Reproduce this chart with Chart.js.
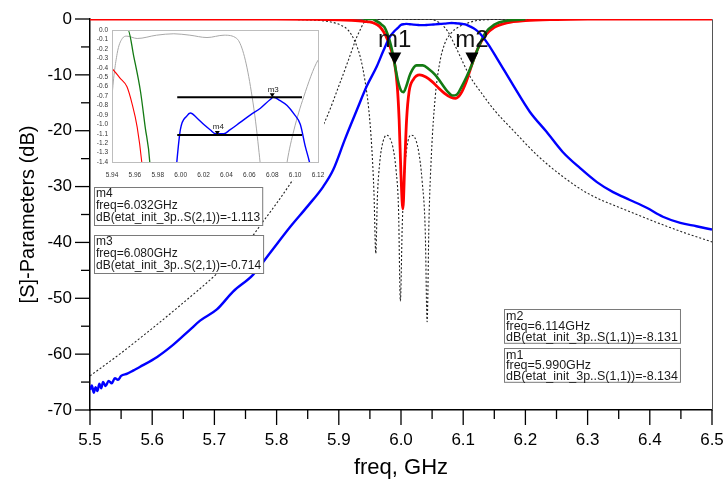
<!DOCTYPE html>
<html>
<head>
<meta charset="utf-8">
<script src="https://cdn.jsdelivr.net/npm/chart.js@4.4.0/dist/chart.umd.min.js"></script>
<style>
  body { margin: 0; background: #fff; }
  #wrap { position: relative; width: 727px; height: 483px; }
  #main { position: absolute; left: 0; top: 0; }
  #inset { position: absolute; left: 92px; top: 24px; background: #fff; }
</style>
</head>
<body>
<div id="wrap">
  <canvas id="main" width="727" height="483"></canvas>
  <canvas id="inset" width="232" height="156"></canvas>
</div>
<script>
// measured S21 (blue)
const s21MeasFreq = [5.5, 5.503, 5.506, 5.509, 5.512, 5.515, 5.518, 5.521, 5.525, 5.53, 5.535, 5.54, 5.545, 5.55, 5.56, 5.57, 5.58,
  5.608, 5.634, 5.661, 5.677, 5.704, 5.73, 5.762, 5.79, 5.822, 5.85, 5.875, 5.891, 5.91, 5.929, 5.945, 5.961, 5.972, 5.982,
  5.99, 5.995, 5.9997, 6.0055, 6.0085, 6.014, 6.02, 6.026, 6.0303, 6.0376, 6.043, 6.052, 6.061, 6.0697, 6.078, 6.081, 6.087,
  6.093, 6.099, 6.1045, 6.109, 6.1125, 6.12, 6.127, 6.14, 6.154, 6.18, 6.207, 6.234, 6.26, 6.288, 6.315, 6.341, 6.368,
  6.395, 6.421, 6.449, 6.475, 6.5]
const s21MeasDb = [-66.4, -65.6, -66.9, -65.9, -66.6, -65.3, -66.1, -65.0, -65.7, -64.8, -65.2, -64.3, -64.6, -63.9, -63.5, -62.9, -62.3,
  -60.5, -58.3, -55.6, -54.0, -52.0, -48.8, -45.8, -41.8, -37.2, -33.5, -30.0, -27.0, -21.5, -16.3, -12.0, -8.5, -5.6, -3.2,
  -2.1, -1.6, -1.06, -0.91, -0.88, -0.93, -1.0, -1.06, -1.1, -1.1, -1.06, -0.98, -0.9, -0.83, -0.74, -0.714, -0.75,
  -0.8, -0.89, -1.0, -1.24, -1.4, -1.9, -2.6, -4.5, -7.0, -11.8, -16.6, -20.2, -23.8, -26.7, -29.2, -31.0, -32.4,
  -33.8, -35.4, -36.5, -37.1, -37.7]

// S11 (red)
const s11RedFreq = [5.5, 5.8, 5.85, 5.9, 5.92, 5.94, 5.947, 5.953, 5.9575, 5.962, 5.966, 5.972, 5.978, 5.984, 5.99, 5.994, 5.997,
  6.0, 6.003, 6.006, 6.009, 6.013, 6.02, 6.03, 6.04, 6.05, 6.06, 6.07, 6.08, 6.088, 6.096, 6.105, 6.114, 6.124, 6.135,
  6.15, 6.17, 6.2, 6.25, 6.3, 6.5]
const s11RedDb = [0, -0.02, -0.06, -0.15, -0.25, -0.41, -0.51, -0.6, -0.78, -1.03, -1.4, -2.3, -3.6, -5.5, -8.13, -12, -18,
  -28, -34, -26, -18, -13, -10.8, -10, -10.4, -11.2, -12.3, -13.3, -14, -14.2, -13.4, -11.2, -8.13, -5.2, -3,
  -1.5, -0.7, -0.3, -0.1, -0.03, 0]

// S11 (green)
const s11GreenFreq = [5.94, 5.954, 5.959, 5.965, 5.969, 5.973, 5.978, 5.984, 5.99, 5.995, 6.0, 6.004, 6.008, 6.015, 6.025, 6.035,
  6.045, 6.055, 6.065, 6.075, 6.083, 6.09, 6.098, 6.106, 6.114, 6.124, 6.135, 6.15, 6.17, 6.2]
const s11GreenDb = [0, 0, -0.28, -0.66, -1.03, -1.4, -2.6, -4.8, -8.13, -11, -12.8, -13.1, -12.2, -9.8, -8.3, -8.3,
  -9, -10, -11.5, -13, -13.7, -13.5, -12, -10.2, -8.13, -5.2, -2.6, -1, -0.3, -0.05]

// ideal S21 (dotted)
const s21IdealFreq = [5.5, 5.55, 5.6, 5.65, 5.706, 5.75, 5.778, 5.8, 5.826, 5.85, 5.881, 5.9, 5.915, 5.929, 5.935, 5.94, 5.9445,
  5.949, 5.953, 5.962, 5.979, 5.994, 6.008, 6.023, 6.038, 6.049, 6.055, 6.061, 6.067, 6.075, 6.09, 6.111, 6.129, 6.15,
  6.18, 6.22, 6.26, 6.3, 6.368, 6.449, 6.5]
const s21IdealDb = [-63.9, -59.8, -55.4, -50.8, -45.4, -40.5, -36.3, -33, -28.8, -24.5, -17.5, -12, -7.5, -3.2, -1.8, -0.71, -0.25,
  -0.09, -0.065, -0.09, -0.055, -0.04, -0.055, -0.08, -0.055, -0.09, -0.25, -0.6, -1.13, -2.2, -5.5, -10.3, -13.2, -16.3,
  -19.9, -24.5, -28.2, -31.2, -34.5, -38, -39.9]

// ideal S11 (dotted)
const s11IdealFreq = [5.5, 5.75, 5.82, 5.86, 5.88, 5.895, 5.905, 5.915, 5.925, 5.935, 5.942, 5.948, 5.953, 5.9565, 5.9595, 5.962,
  5.966, 5.971, 5.977, 5.982, 5.987, 5.992, 5.996, 5.999, 6.002, 6.006, 6.011, 6.017, 6.022, 6.028, 6.034, 6.039, 6.042,
  6.045, 6.049, 6.055, 6.062, 6.07, 6.08, 6.093, 6.099, 6.1075, 6.12, 6.14, 6.2, 6.5]
const s11IdealDb = [0, -0.02, -0.08, -0.2, -0.4, -0.75, -1.2, -2.0, -3.8, -7, -11, -16, -23, -31, -42, -32,
  -25.5, -22, -20.8, -21.3, -23, -27, -34, -50.5, -37, -27, -22, -20.8, -21.2, -23.5, -29, -38, -54.2,
  -36, -24, -14, -8, -4.5, -2.6, -1.4, -1.06, -0.71, -0.32, -0.12, -0.03, 0]

// markers
const markerNames = ['m1', 'm2', 'm3', 'm4']
const markerFreq = [5.990, 6.114, 6.080, 6.032]
const markerDb = [-8.134, -8.131, -0.714, -1.113]
const markerParam = ['S(1,1)', 'S(1,1)', 'S(2,1)', 'S(2,1)']

// inset reference lines
const refLineFreq = [5.997, 6.106]

const pts = (f, d) => f.map((x, i) => ({ x, y: d[i] }))
const FONT = 'Arial, "Liberation Sans", sans-serif'

const curve = (data, color, width, dash) => ({
  data, borderColor: color, borderWidth: width, borderDash: dash || [],
  pointRadius: 0, fill: false, cubicInterpolationMode: 'monotone'
})

// minor ticks, frame, markers and marker boxes
const mainDecor = {
  id: 'mainDecor',
  beforeDatasetsDraw(chart) {
    const { ctx, chartArea: a } = chart
    ctx.save()
    ctx.strokeStyle = '#555'
    ctx.lineWidth = 1
    ctx.beginPath()
    ctx.moveTo(a.left, a.top + 0.5); ctx.lineTo(a.right + 0.5, a.top + 0.5); ctx.lineTo(a.right + 0.5, a.bottom)
    ctx.stroke()
    ctx.restore()
  },
  afterDraw(chart) {
    const { ctx, chartArea: a, scales: { x, y } } = chart
    ctx.save()
    ctx.strokeStyle = '#000'
    ctx.lineWidth = 1.3
    for (let i = 0; i <= 20; i++) {
      const px = x.getPixelForValue(5.5 + i * 0.05)
      ctx.beginPath(); ctx.moveTo(px, a.bottom); ctx.lineTo(px, a.bottom + (i % 2 ? 9 : 15)); ctx.stroke()
    }
    for (let i = 0; i <= 14; i++) {
      const py = y.getPixelForValue(-i * 5)
      ctx.beginPath(); ctx.moveTo(a.left, py); ctx.lineTo(a.left - (i % 2 ? 9 : 15), py); ctx.stroke()
    }
    // m1, m2 markers
    ctx.fillStyle = '#000'
    ctx.textAlign = 'center'
    ctx.textBaseline = 'alphabetic'
    for (let i = 0; i < 2; i++) {
      const px = x.getPixelForValue(markerFreq[i]), py = y.getPixelForValue(markerDb[i])
      ctx.beginPath(); ctx.moveTo(px, py); ctx.lineTo(px - 6.5, py - 12); ctx.lineTo(px + 6.5, py - 12); ctx.closePath(); ctx.fill()
      ctx.font = '24px ' + FONT
      ctx.fillStyle = '#111'
      ctx.fillText(markerNames[i], px, py - 17)
      ctx.fillStyle = '#000'
    }
    // readout boxes: [marker index, left, top, font size, line step]
    const boxes = [[3, 94, 187, 12, 12], [2, 94, 235, 12, 12], [1, 504, 309, 12.5, 10.6], [0, 504, 348, 12.5, 10.6]]
    ctx.textAlign = 'left'
    ctx.textBaseline = 'top'
    boxes.forEach(([m, bx, by, fs, step]) => {
      const lines = [markerNames[m], 'freq=' + markerFreq[m].toFixed(3) + 'GHz',
        'dB(etat_init_3p..' + markerParam[m] + ')=' + markerDb[m].toFixed(3)]
      ctx.font = fs + 'px ' + FONT
      const w = Math.max(...lines.map(l => ctx.measureText(l).width)) + 4
      const h = step * 3 + 2
      ctx.fillStyle = '#fff'
      ctx.fillRect(bx, by, w, h)
      ctx.strokeStyle = '#7a7a7a'
      ctx.lineWidth = 1
      ctx.strokeRect(bx + 0.5, by + 0.5, w, h)
      ctx.fillStyle = '#1a1a1a'
      lines.forEach((l, k) => ctx.fillText(l, bx + 2, by + 1 + k * step))
    })
    ctx.restore()
  }
}

new Chart(document.getElementById('main'), {
  type: 'line',
  data: {
    datasets: [
      curve(pts(s21MeasFreq, s21MeasDb), '#0000ff', 2.4),
      curve(pts(s11GreenFreq, s11GreenDb), '#137a13', 2.6),
      curve(pts(s11RedFreq, s11RedDb), '#ff0000', 2.8),
      curve(pts(s21IdealFreq, s21IdealDb), '#222', 1.1, [2, 2]),
      curve(pts(s11IdealFreq, s11IdealDb), '#222', 1.1, [2, 2])
    ]
  },
  options: {
    responsive: false,
    animation: false,
    devicePixelRatio: 1,
    layout: { padding: { top: 19, right: 15, left: 0, bottom: 0 } },
    plugins: { legend: { display: false }, tooltip: { enabled: false } },
    scales: {
      x: {
        type: 'linear', min: 5.5, max: 6.5,
        ticks: { stepSize: 0.1, callback: v => v.toFixed(1), font: { size: 17, family: FONT }, color: '#000', padding: 20, maxRotation: 0, autoSkip: false },
        grid: { display: false, drawTicks: false },
        border: { color: '#000', width: 1.5 },
        title: { display: true, text: 'freq, GHz', font: { size: 22, family: FONT }, color: '#000', padding: { top: 0, bottom: 2 } },
        afterFit: s => { s.height = 73; s.paddingLeft = 0; s.paddingRight = 0 }
      },
      y: {
        min: -70, max: 0,
        ticks: { stepSize: 10, font: { size: 17, family: FONT }, color: '#000', padding: 18, autoSkip: false },
        grid: { display: false, drawTicks: false },
        border: { color: '#000', width: 1.5 },
        title: { display: true, text: '[S]-Parameters (dB)', font: { size: 20, family: FONT }, color: '#000', padding: { top: 16, bottom: 0 } },
        afterFit: s => { s.width = 90; s.paddingTop = 0; s.paddingBottom = 0 }
      }
    }
  },
  plugins: [mainDecor]
})

// inset: frame, reference markers
const insetDecor = {
  id: 'insetDecor',
  afterDatasetsDraw(chart) {
    const { ctx, chartArea: a, scales: { x, y } } = chart
    ctx.save()
    ctx.strokeStyle = '#bdbdbd'
    ctx.lineWidth = 1
    ctx.strokeRect(a.left + 0.5, a.top + 0.5, a.right - a.left, a.bottom - a.top)
    ctx.fillStyle = '#000'
    ctx.textAlign = 'center'
    ctx.font = '8px ' + FONT
    for (let i = 2; i < 4; i++) {
      const px = x.getPixelForValue(markerFreq[i]), py = y.getPixelForValue(markerDb[i])
      ctx.beginPath(); ctx.moveTo(px, py); ctx.lineTo(px - 2.5, py - 4); ctx.lineTo(px + 2.5, py - 4); ctx.closePath(); ctx.fill()
      ctx.fillStyle = '#222'
      ctx.fillText(markerNames[i], px + 1, py - 5.5)
      ctx.fillStyle = '#000'
    }
    ctx.restore()
  }
}

const tinyTicks = { font: { size: 6.5, family: FONT }, color: '#333', autoSkip: false, maxRotation: 0 }

new Chart(document.getElementById('inset'), {
  type: 'line',
  data: {
    datasets: [
      curve(refLineFreq.map(f => ({ x: f, y: markerDb[2] })), '#000', 2),
      curve(refLineFreq.map(f => ({ x: f, y: markerDb[3] })), '#000', 2),
      curve(pts(s21MeasFreq, s21MeasDb), '#0000ff', 1.4),
      curve(pts(s11GreenFreq, s11GreenDb), '#137a13', 1.3),
      curve(pts(s11RedFreq, s11RedDb), '#ff0000', 1.1),
      curve(pts(s21IdealFreq, s21IdealDb), '#a8a8a8', 1),
      curve(pts(s11IdealFreq, s11IdealDb), '#a8a8a8', 1)
    ]
  },
  options: {
    responsive: false,
    animation: false,
    devicePixelRatio: 1,
    layout: { padding: { top: 6, right: 6, left: 0, bottom: 0 } },
    plugins: { legend: { display: false }, tooltip: { enabled: false } },
    scales: {
      x: {
        type: 'linear', min: 5.94, max: 6.12,
        ticks: { ...tinyTicks, stepSize: 0.02, padding: 9, callback: v => v.toFixed(2) },
        grid: { display: false, drawTicks: false },
        border: { color: '#bdbdbd' },
        afterFit: s => { s.height = 18; s.paddingLeft = 0; s.paddingRight = 0 }
      },
      y: {
        min: -1.4, max: 0,
        ticks: { ...tinyTicks, stepSize: 0.1, padding: 4, callback: v => v.toFixed(1) },
        grid: { display: false, drawTicks: false },
        border: { color: '#bdbdbd' },
        afterFit: s => { s.width = 20; s.paddingTop = 0; s.paddingBottom = 0 }
      }
    }
  },
  plugins: [insetDecor]
})
</script>
</body>
</html>
